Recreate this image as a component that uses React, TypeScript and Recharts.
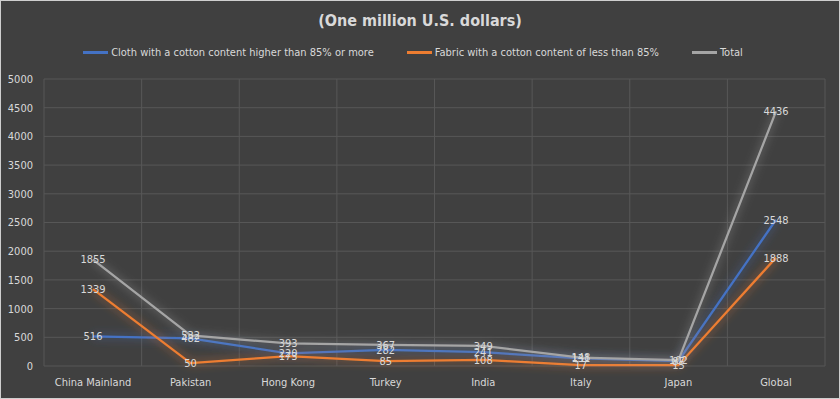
import { LineChart, Line, XAxis, YAxis, CartesianGrid, Legend, LabelList } from 'recharts'

const regions = ['China Mainland', 'Pakistan', 'Hong Kong', 'Turkey', 'India', 'Italy', 'Japan', 'Global']
const clothHigh = [516, 482, 220, 282, 241, 131, 87, 2548]
const fabricLow = [1339, 50, 173, 85, 108, 17, 15, 1888]
const totals = [1855, 532, 393, 367, 349, 148, 102, 4436]
const yTicks = [0, 500, 1000, 1500, 2000, 2500, 3000, 3500, 4000, 4500, 5000]

const SERIES = [
  { key: 'cloth', name: 'Cloth with a cotton content higher than 85% or more', color: '#4472c4' },
  { key: 'fabric', name: 'Fabric with a cotton content of less than 85%', color: '#ed7d31' },
  { key: 'total', name: 'Total', color: '#a5a5a5' },
]

const FONT = '"DejaVu Sans Condensed", "Liberation Sans", sans-serif'
const TEXT = '#d9d9d9'

const data = regions.map((r, i) => ({
  region: r,
  cloth: clothHigh[i],
  fabric: fabricLow[i],
  total: totals[i],
}))

function LegendRow() {
  return (
    <div style={{ height: 20, display: 'flex', justifyContent: 'center', alignItems: 'center', gap: 33, fontFamily: FONT, fontSize: 11, color: TEXT }}>
      {SERIES.map(s => (
        <div key={s.key} style={{ display: 'flex', alignItems: 'center' }}>
          <span style={{ display: 'inline-block', width: 25, height: 3, background: s.color, marginRight: 3 }} />
          <span>{s.name}</span>
        </div>
      ))}
    </div>
  )
}

export default function App() {
  return (
    <div style={{ position: 'absolute', left: 0, top: 0, width: 840, height: 399, boxSizing: 'border-box', border: '1px solid #cfcfcf', background: '#404040' }}>
      <style>{'body{margin:0}'}</style>
      <div style={{ position: 'absolute', top: 10, left: 0, width: 838, textAlign: 'center', fontFamily: FONT, fontWeight: 'bold', fontSize: 16, color: TEXT }}>
        (One million U.S. dollars)
      </div>
      <LineChart width={838} height={397} data={data} margin={{ top: 58, right: 14, bottom: 0, left: 0 }}>
        <defs>
          <filter id="glow" x="-20%" y="-20%" width="140%" height="140%">
            <feGaussianBlur in="SourceGraphic" stdDeviation="5" result="blur" />
            <feComponentTransfer in="blur" result="soft">
              <feFuncA type="linear" slope="0.8" />
            </feComponentTransfer>
            <feMerge>
              <feMergeNode in="soft" />
              <feMergeNode in="SourceGraphic" />
            </feMerge>
          </filter>
        </defs>
        <CartesianGrid
          stroke="#575757"
          verticalCoordinatesGenerator={({ offset }: any) =>
            regions.map((_, i) => offset.left + (i * offset.width) / regions.length).concat(offset.left + offset.width)
          }
        />
        <XAxis
          dataKey="region"
          padding={{ left: 49, right: 49 }}
          axisLine={false}
          tickLine={false}
          tickSize={0}
          tickMargin={12}
          height={32}
          interval={0}
          tick={{ fill: TEXT, fontSize: 11, fontFamily: FONT }}
        />
        <YAxis
          domain={[0, 5000]}
          ticks={yTicks}
          width={43}
          axisLine={false}
          tickLine={false}
          tickSize={0}
          tickMargin={11}
          tick={{ fill: TEXT, fontSize: 11, fontFamily: FONT }}
        />
        <Legend verticalAlign="top" align="center" wrapperStyle={{ top: 41 }} content={() => <LegendRow />} />
        {SERIES.map(s => (
          <Line
            key={s.key}
            dataKey={s.key}
            name={s.name}
            stroke={s.color}
            strokeWidth={2.25}
            dot={false}
            filter="url(#glow)"
            isAnimationActive={false}
          >
            <LabelList dataKey={s.key} position="center" fill={TEXT} fontSize={11} fontFamily={FONT} />
          </Line>
        ))}
      </LineChart>
    </div>
  )
}
